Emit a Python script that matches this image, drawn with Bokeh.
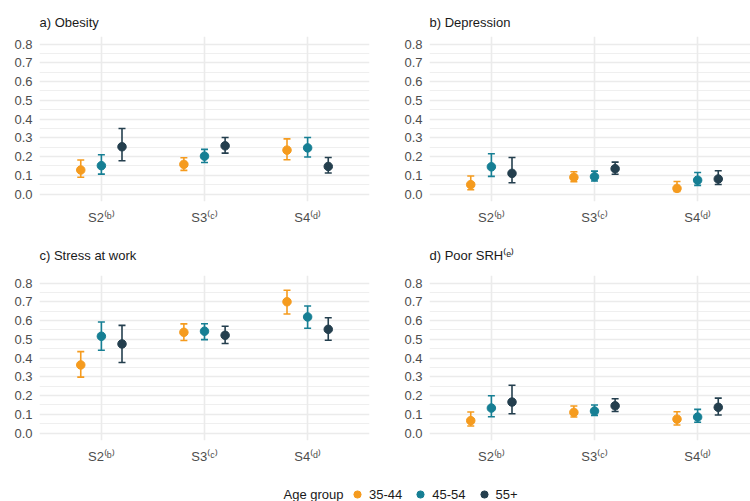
from bokeh.plotting import figure
from bokeh.layouts import column, row
from bokeh.models import Range1d, FixedTicker, ColumnDataSource, Legend, LegendItem, Label, PrintfTickFormatter
from bokeh.transform import dodge
from bokeh.embed import file_html
from bokeh.resources import INLINE

# ---------------- data ----------------
categories = ["S2", "S3", "S4"]
category_codes = [1, 2, 3]
tick_labels = ["S2\u207d\u1d47\u207e", "S3\u207d\u1d9c\u207e", "S4\u207d\u1d48\u207e"]
age_groups = ["35-44", "45-54", "55+"]
y_ticks = [0.0, 0.1, 0.2, 0.3, 0.4, 0.5, 0.6, 0.7, 0.8]
y_minor = [0.05, 0.15, 0.25, 0.35, 0.45, 0.55, 0.65, 0.75]
panel_titles = ["a) Obesity", "b) Depression", "c) Stress at work", "d) Poor SRH\u207d\u1d49\u207e"]

# a) Obesity: estimate / lower / upper per age group for S2, S3, S4
obesity_est = {"35-44": [0.128, 0.158, 0.234], "45-54": [0.151, 0.202, 0.246], "55+": [0.252, 0.257, 0.147]}
obesity_lo = {"35-44": [0.089, 0.126, 0.183], "45-54": [0.106, 0.168, 0.197], "55+": [0.177, 0.218, 0.112]}
obesity_hi = {"35-44": [0.181, 0.193, 0.294], "45-54": [0.209, 0.238, 0.301], "55+": [0.349, 0.301, 0.195]}

# b) Depression
depression_est = {"35-44": [0.050, 0.089, 0.030], "45-54": [0.145, 0.092, 0.074], "55+": [0.110, 0.135, 0.080]}
depression_lo = {"35-44": [0.023, 0.066, 0.014], "45-54": [0.094, 0.069, 0.046], "55+": [0.060, 0.105, 0.051]}
depression_hi = {"35-44": [0.096, 0.119, 0.067], "45-54": [0.215, 0.122, 0.115], "55+": [0.195, 0.170, 0.124]}

# c) Stress at work
stress_est = {"35-44": [0.363, 0.537, 0.700], "45-54": [0.516, 0.543, 0.619], "55+": [0.475, 0.521, 0.553]}
stress_lo = {"35-44": [0.298, 0.493, 0.635], "45-54": [0.441, 0.498, 0.559], "55+": [0.376, 0.477, 0.495]}
stress_hi = {"35-44": [0.434, 0.582, 0.761], "45-54": [0.592, 0.583, 0.677], "55+": [0.574, 0.569, 0.615]}

# d) Poor SRH
srh_est = {"35-44": [0.066, 0.110, 0.074], "45-54": [0.133, 0.117, 0.085], "55+": [0.165, 0.145, 0.137]}
srh_lo = {"35-44": [0.037, 0.085, 0.043], "45-54": [0.087, 0.094, 0.057], "55+": [0.103, 0.115, 0.096]}
srh_hi = {"35-44": [0.112, 0.144, 0.113], "45-54": [0.199, 0.149, 0.126], "55+": [0.255, 0.183, 0.186]}

# ---------------- style ----------------
COLORS = {"35-44": "#F59B1E", "45-54": "#167F94", "55+": "#243F4E"}
OFFSETS = {"35-44": -0.2, "45-54": 0.0, "55+": 0.2}
FONT = "Liberation Sans"
GRID = "#EBEBEB"


def make_panel(title, est, lo, hi, left_col, top_row):
    frame_w = 330 if left_col else 321
    x_end = 0.4 + 3.2 * frame_w / 330.0
    if top_row:
        h, bt, bb, standoff = 232, 36, 31, 14
    else:
        h, bt, bb, standoff = 234, 43, 26, 26
    p = figure(width=375, height=h, output_backend="svg", toolbar_location=None,
               x_range=Range1d(0.4, x_end), y_range=Range1d(-0.04, 0.84),
               min_border_left=39 if left_col else 54,
               min_border_right=6 if left_col else 0,
               min_border_top=bt, min_border_bottom=bb)
    p.outline_line_color = None
    p.background_fill_color = "white"
    p.border_fill_color = "white"

    p.title.text = title
    p.title.text_font = FONT
    p.title.text_font_size = "13px"
    p.title.text_font_style = "normal"
    p.title.text_color = "#1A1A1A"
    p.title.align = "left"
    p.title.standoff = standoff

    # axes
    p.xaxis.ticker = FixedTicker(ticks=category_codes)
    p.xaxis.major_label_overrides = {c: t for c, t in zip(category_codes, tick_labels)}
    p.yaxis.ticker = FixedTicker(ticks=y_ticks, minor_ticks=y_minor)
    p.yaxis.formatter = PrintfTickFormatter(format="%.1f")
    for ax in (p.xaxis, p.yaxis):
        ax.axis_line_color = None
        ax.major_tick_line_color = None
        ax.minor_tick_line_color = None
        ax.major_tick_out = 0
        ax.major_tick_in = 0
        ax.minor_tick_out = 0
        ax.major_label_text_font = FONT
        ax.major_label_text_font_size = "13px"
        ax.major_label_text_color = "#4D4D4D"
    p.xaxis.major_label_standoff = 8
    p.yaxis.major_label_standoff = 7

    # grid
    p.xgrid.ticker = FixedTicker(ticks=category_codes)
    p.xgrid.grid_line_color = GRID
    p.xgrid.grid_line_width = 1.6
    p.ygrid.grid_line_color = GRID
    p.ygrid.grid_line_width = 1.3
    p.ygrid.minor_grid_line_color = GRID
    p.ygrid.minor_grid_line_width = 0.8

    for g in age_groups:
        src = ColumnDataSource(dict(cat=categories, x=category_codes,
                                    est=est[g], lo=lo[g], hi=hi[g]))
        xs = dodge("x", OFFSETS[g])
        c = COLORS[g]
        p.segment(x0=xs, y0="lo", x1=xs, y1="hi", source=src, line_color=c, line_width=1.6)
        p.scatter(x=xs, y="lo", source=src, marker="dash", size=7, line_color=c, line_width=1.6)
        p.scatter(x=xs, y="hi", source=src, marker="dash", size=7, line_color=c, line_width=1.6)
        p.scatter(x=xs, y="est", source=src, marker="circle", size=8.5, fill_color=c, line_color=c)
    return p


pa = make_panel(panel_titles[0], obesity_est, obesity_lo, obesity_hi, True, True)
pb = make_panel(panel_titles[1], depression_est, depression_lo, depression_hi, False, True)
pc = make_panel(panel_titles[2], stress_est, stress_lo, stress_hi, True, False)
pd_ = make_panel(panel_titles[3], srh_est, srh_lo, srh_hi, False, False)

# ---------------- legend ----------------
lg = figure(width=750, height=35, output_backend="svg", toolbar_location=None,
            x_range=Range1d(0, 1), y_range=Range1d(0, 1),
            x_axis_type=None, y_axis_type=None, min_border=0)
lg.outline_line_color = None
lg.xgrid.visible = False
lg.ygrid.visible = False
items = []
for g in age_groups:
    # hidden renderer carrying the group's series; only its legend swatch is shown
    r = lg.scatter(x=category_codes, y=obesity_est[g], marker="circle", size=8,
                   fill_color=COLORS[g], line_color=COLORS[g], visible=False)
    items.append(LegendItem(label=g, renderers=[r]))
legend = Legend(items=items, orientation="horizontal", location=(348, -2),
                border_line_color=None, background_fill_alpha=0,
                inactive_fill_alpha=0, click_policy="none",
                padding=0, margin=0, spacing=9, glyph_width=18, glyph_height=18,
                label_standoff=3, label_height=18,
                label_text_font=FONT, label_text_font_size="13px", label_text_color="#1A1A1A")
lg.add_layout(legend, "center")
lg.add_layout(Label(x=283, y=7, x_units="screen", y_units="screen", text="Age group",
                    text_baseline="middle", text_font=FONT, text_font_size="13px",
                    text_color="#1A1A1A"))

layout = column(row(pa, pb), row(pc, pd_), lg)

with open("out.html", "w") as f:
    f.write(file_html(layout, INLINE))
